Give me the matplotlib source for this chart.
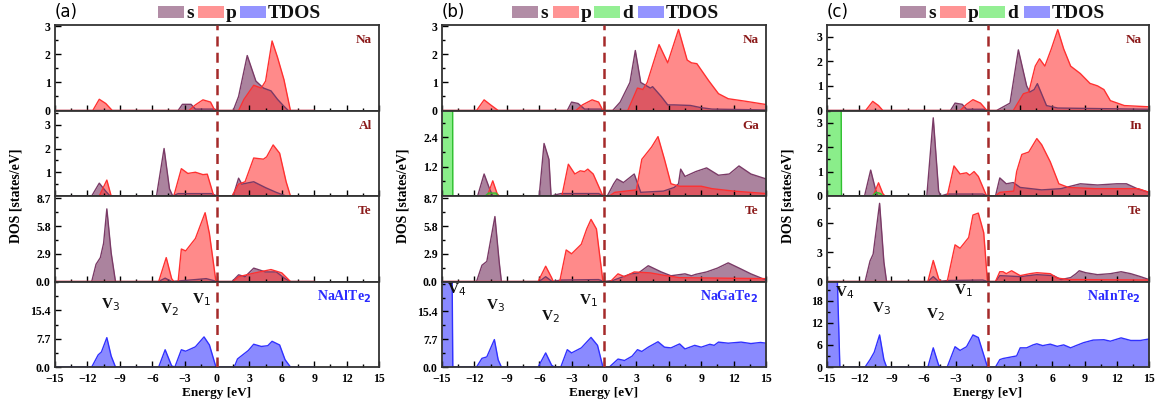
import numpy as np
import matplotlib
matplotlib.use("Agg")
import matplotlib.pyplot as plt
from matplotlib.patches import Rectangle
from matplotlib.ticker import MultipleLocator, AutoMinorLocator

# ---- (a) NaAlTe2 : (energy, DOS) points ----
a_na_s = [(-15, 0), (-3.6, 0), (-3.2, 0.22), (-2.4, 0.22), (-2.0, 0.05), (-0.2, 0.05), (0, 0), (1.5, 0),
          (2.0, 0.5), (2.8, 1.96), (3.6, 1.05), (4.3, 0.8), (5.0, 0.7), (5.6, 0.4), (6.2, 0.15), (6.6, 0), (9, 0)]
a_na_p = [(-15, 0), (-11.5, 0), (-10.9, 0.4), (-10.3, 0.25), (-9.7, 0), (-2.6, 0), (-2.0, 0.2), (-1.3, 0.38),
          (-0.6, 0.3), (-0.2, 0), (2.0, 0), (2.5, 0.4), (3.4, 0.9), (4.1, 0.8), (4.5, 1.05), (5.1, 2.48),
          (5.6, 1.9), (6.2, 1.1), (6.8, 0), (9, 0)]
a_al_s = [(-15, 0), (-11.6, 0), (-10.9, 0.54), (-10.3, 0.2), (-9.9, 0), (-5.6, 0), (-4.9, 2.0), (-4.4, 0.3),
          (-4.1, 0), (-3.6, 0.1), (-0.5, 0.1), (0, 0), (1.5, 0), (2.0, 0.75), (2.3, 0.5), (3.4, 0.6),
          (4.5, 0.35), (5.5, 0.15), (6.4, 0), (9, 0)]
a_al_p = [(-15, 0), (-10.9, 0), (-10.2, 0.67), (-9.8, 0), (-4.0, 0), (-3.3, 1.15), (-2.7, 0.95), (-2.0, 1.0),
          (-1.3, 0.9), (-0.9, 0.92), (-0.3, 0), (1.4, 0), (2.0, 0.5), (2.6, 0.6), (3.4, 1.6), (4.3, 1.55),
          (4.6, 1.65), (5.2, 2.15), (5.8, 1.8), (6.4, 0.6), (6.8, 0), (9, 0)]
a_te_s = [(-15, 0), (-11.6, 0), (-11.2, 1.8), (-10.8, 2.5), (-10.5, 4.0), (-10.2, 7.6), (-9.8, 3.0), (-9.4, 0),
          (-5.4, 0), (-4.8, 0.35), (-4.2, 0), (-2.0, 0.2), (-1.0, 0.3), (0, 0), (1.4, 0), (2.0, 0.7),
          (2.6, 0.5), (3.4, 1.4), (4.5, 1.0), (5.5, 1.0), (6.3, 0.3), (6.8, 0), (9, 0)]
a_te_p = [(-15, 0), (-5.4, 0), (-4.7, 2.5), (-4.2, 0.3), (-4.0, 0), (-3.6, 0), (-3.3, 3.4), (-2.9, 3.2),
          (-2.0, 4.5), (-1.5, 6.0), (-1.1, 7.2), (-0.7, 5.0), (-0.1, 0), (1.5, 0), (2.0, 0.5), (3.5, 0.9),
          (5.0, 1.25), (6.0, 0.9), (6.8, 0), (9, 0)]
a_tdos = [(-15, 0), (-11.6, 0), (-11.0, 3.3), (-10.7, 4.1), (-10.2, 8.0), (-9.8, 3.0), (-9.4, 0), (-5.4, 0),
          (-4.8, 4.7), (-4.2, 0.3), (-3.9, 0), (-3.3, 4.7), (-2.9, 4.3), (-2.0, 5.5), (-1.2, 8.2), (-0.7, 6.0),
          (-0.1, 0), (1.6, 0), (1.9, 2.2), (2.9, 4.5), (3.4, 6.2), (4.1, 5.6), (4.7, 5.8), (5.1, 7.0),
          (5.8, 6.0), (6.3, 2.0), (6.8, 0), (9, 0)]

# ---- (b) NaGaTe2 ----
b_na_s = [(-15, 0), (-3.4, 0), (-3.0, 0.3), (-2.4, 0.25), (-1.8, 0.05), (-0.3, 0.05), (0, 0), (0.8, 0),
          (1.5, 0.3), (2.4, 1.0), (2.9, 2.14), (3.4, 1.0), (4.3, 0.8), (4.5, 0.85), (5.3, 0.5), (5.9, 0.2),
          (6.5, 0.2), (8.0, 0.18), (9.0, 0.1), (10, 0.05), (15, 0.02)]
b_na_p = [(-15, 0), (-11.8, 0), (-11.1, 0.38), (-10.5, 0.2), (-9.8, 0), (-2.6, 0), (-2.0, 0.2), (-1.1, 0.38),
          (-0.5, 0.3), (-0.1, 0), (2.2, 0), (3.1, 0.8), (3.6, 0.75), (4.0, 1.0), (5.1, 2.35), (5.9, 1.7),
          (6.9, 2.89), (7.7, 1.8), (8.1, 1.7), (8.6, 1.67), (9.7, 1.06), (10.6, 0.6), (11.5, 0.42),
          (13.1, 0.33), (14.9, 0.22), (15, 0.2)]
b_ga_s = [(-15, 0), (-11.7, 0), (-11.1, 0.9), (-10.6, 0.3), (-10.3, 0), (-6.0, 0), (-5.55, 2.15), (-5.1, 1.5),
          (-4.9, 0), (-4.0, 0.1), (-0.5, 0.1), (0, 0), (0.3, 0), (0.9, 0.5), (1.2, 0.7), (1.8, 0.55),
          (2.8, 0.9), (3.4, 0.15), (5.5, 0.2), (6.5, 0.35), (6.9, 0.5), (7.1, 1.1), (7.5, 0.8), (8.5, 1.0),
          (9.5, 1.15), (10.6, 0.85), (11.6, 0.9), (12.5, 1.23), (13.6, 0.9), (15, 0.7)]
b_ga_p = [(-15, 0), (-10.8, 0), (-10.3, 0.62), (-9.9, 0.1), (-9.7, 0), (-3.9, 0), (-3.3, 1.3), (-2.7, 0.9),
          (-2.2, 1.03), (-1.8, 1.0), (-1.5, 1.1), (-1.0, 0.9), (-0.1, 0), (0.5, 0), (1.0, 0.15), (3.0, 0.25),
          (3.3, 1.0), (3.5, 1.5), (4.4, 2.0), (5.0, 2.43), (5.6, 1.5), (6.2, 0.5), (7.0, 0.4), (9.0, 0.4),
          (10.0, 0.3), (12.0, 0.2), (15, 0.1)]
b_ga_d = [(-15, 12), (-14.05, 12), (-14.0, 0), (-11.0, 0), (-10.7, 0.12), (-10.0, 0.12), (-9.8, 0), (15, 0)]
b_te_s = [(-15, 0), (-11.8, 0), (-11.3, 1.7), (-10.85, 2.1), (-10.1, 6.8), (-9.7, 2.0), (-9.5, 0), (-6.0, 0),
          (-5.4, 0.5), (-4.8, 0), (-4.0, 0.15), (-0.5, 0.2), (0, 0), (0.8, 0.1), (2.5, 0.8), (3.2, 0.9),
          (4.1, 1.65), (5.3, 1.0), (6.2, 0.6), (7.5, 0.8), (8.1, 0.6), (8.5, 0.75), (9.5, 1.0), (10.5, 1.4),
          (11.5, 1.95), (12.7, 1.3), (13.6, 0.8), (14.9, 0.2), (15, 0.2)]
b_te_p = [(-15, 0), (-6.1, 0), (-5.4, 1.6), (-4.85, 0.4), (-4.7, 0), (-4.1, 0), (-3.5, 3.3), (-3.0, 2.9),
          (-2.1, 3.9), (-1.6, 5.5), (-1.2, 6.5), (-0.7, 5.5), (-0.1, 0), (0.6, 0), (1.3, 0.8), (1.9, 0.5),
          (2.8, 1.0), (4.3, 0.9), (5.8, 0.6), (7, 0.4), (15, 0.3)]
b_tdos = [(-15, 40), (-14.1, 40), (-14.0, 0), (-11.8, 0), (-11.3, 2.4), (-10.85, 2.8), (-10.15, 7.6),
          (-9.8, 2.0), (-9.5, 0), (-6.1, 0), (-5.4, 3.9), (-4.85, 0.5), (-4.6, 0), (-4.0, 0), (-3.4, 4.8),
          (-3.0, 3.9), (-2.1, 5.3), (-1.2, 8.2), (-0.6, 6.0), (-0.1, 0), (0.5, 0), (1.3, 2.2), (1.9, 1.8),
          (2.6, 3.0), (3.1, 4.8), (3.5, 4.3), (4.1, 5.5), (4.4, 6.0), (5.0, 7.0), (5.6, 5.5), (6.2, 5.3),
          (7.0, 6.4), (7.5, 5.0), (8.4, 6.0), (9.0, 5.5), (9.8, 6.3), (10.2, 6.0), (10.6, 6.9), (11.5, 6.6),
          (12.7, 6.9), (13.6, 6.5), (14.5, 6.8), (15, 6.6)]

# ---- (c) NaInTe2 ----
c_na_s = [(-15, 0), (-3.5, 0), (-3.07, 0.3), (-2.4, 0.25), (-2.0, 0.05), (-0.3, 0.05), (0, 0), (0.8, 0),
          (2.05, 0.3), (2.83, 2.46), (3.6, 1.0), (3.9, 0.75), (4.3, 0.85), (4.6, 1.09), (5.45, 0.2),
          (6.5, 0.1), (15, 0.05)]
c_na_p = [(-15, 0), (-11.4, 0), (-10.74, 0.37), (-10.2, 0.2), (-9.8, 0), (-2.6, 0), (-2.0, 0.25), (-1.4, 0.44),
          (-0.7, 0.3), (-0.1, 0), (2.36, 0), (3.3, 0.68), (3.8, 0.75), (4.4, 1.8), (4.8, 2.1), (5.3, 1.8),
          (5.9, 2.5), (6.5, 3.28), (7.05, 2.5), (7.7, 1.8), (8.6, 1.5), (9.5, 1.1), (10.2, 1.0), (10.8, 0.85),
          (11.4, 0.4), (12.7, 0.2), (15, 0.15)]
c_in_s = [(-15, 0), (-11.5, 0), (-10.93, 1.06), (-10.5, 0.3), (-10.3, 0), (-5.7, 0), (-5.1, 3.2), (-4.6, 0.2),
          (-4.4, 0), (-3.8, 0.08), (-0.5, 0.08), (0, 0), (0.7, 0), (1.1, 0.74), (1.7, 0.5), (2.36, 0.55),
          (3.0, 0.35), (5, 0.25), (6.8, 0.3), (8.6, 0.5), (10.2, 0.45), (12.0, 0.5), (12.9, 0.5), (13.9, 0.3),
          (15, 0.15)]
c_in_p = [(-15, 0), (-10.7, 0), (-10.2, 0.54), (-9.8, 0.1), (-9.6, 0), (-3.8, 0), (-3.17, 1.23), (-2.6, 0.9),
          (-2.0, 0.95), (-1.7, 0.85), (-1.3, 1.0), (-0.9, 0.8), (-0.13, 0), (0.7, 0), (1.1, 0.15), (2.4, 0.2),
          (2.67, 1.0), (3.15, 1.7), (3.8, 1.8), (4.55, 2.35), (5.0, 2.1), (5.8, 1.4), (6.6, 0.5), (7.5, 0.35),
          (10, 0.3), (14, 0.3), (15, 0.15)]
c_in_d = [(-15, 12), (-13.75, 12), (-13.65, 0), (-10.8, 0), (-10.4, 0.15), (-10.0, 0.1), (-9.8, 0), (15, 0)]
c_te_s = [(-15, 0), (-11.45, 0), (-10.99, 2.1), (-10.7, 2.8), (-10.1, 8.0), (-9.7, 2.0), (-9.45, 0), (-5.6, 0),
          (-5.1, 0.5), (-4.6, 0), (-3.8, 0.1), (-0.5, 0.15), (0, 0), (0.7, 0), (1.1, 0.6), (3.0, 0.5),
          (4.55, 0.7), (6.1, 0.6), (6.8, 0.2), (7.7, 0.4), (8.2, 0.8), (8.5, 1.1), (9.1, 0.9), (10.2, 0.7),
          (11.4, 0.8), (12.4, 1.0), (13.3, 0.8), (14.2, 0.5), (15, 0.2)]
c_te_p = [(-15, 0), (-5.6, 0), (-5.1, 2.15), (-4.6, 0.3), (-4.4, 0), (-3.8, 0), (-3.07, 3.75), (-2.6, 3.4),
          (-1.8, 4.5), (-1.4, 6.8), (-0.9, 7.0), (-0.4, 5.0), (-0.05, 0), (0.7, 0), (1.1, 1.0), (1.4, 1.0),
          (1.7, 0.8), (2.2, 1.1), (3.0, 0.6), (3.9, 0.8), (4.55, 0.9), (5.8, 0.8), (6.45, 0.35), (7.5, 0.2),
          (15, 0.15)]
c_tdos = [(-15, 30), (-14.1, 30), (-13.8, 0), (-11.45, 0), (-10.99, 2.0), (-10.6, 4.0), (-10.1, 8.7),
          (-9.7, 2.0), (-9.45, 0), (-5.6, 0), (-5.1, 5.2), (-4.6, 0.5), (-4.4, 0), (-3.8, 0), (-3.07, 5.5),
          (-2.6, 4.5), (-2.0, 5.5), (-1.4, 8.7), (-0.9, 8.0), (-0.05, 0), (0.7, 0), (1.1, 2.0), (1.4, 2.3),
          (2.3, 2.8), (2.67, 3.0), (3.0, 5.2), (3.6, 5.2), (4.2, 6.0), (4.55, 6.3), (5.1, 5.8), (5.8, 6.2),
          (6.45, 5.6), (7.05, 6.0), (7.7, 5.2), (8.2, 5.8), (8.9, 6.6), (9.8, 7.3), (10.8, 7.4), (11.4, 7.0),
          (12.4, 7.9), (13.3, 7.2), (14.2, 7.2), (15, 7.6)]

x_ticks = [-15, -12, -9, -6, -3, 0, 3, 6, 9, 12, 15]

# colours (drawn with alpha 0.6)
FILL = {"s": "#73305e", "p": "#ff3c3c", "d": "#3ce33c", "TDOS": "#3c3cff"}
EDGE = {"s": "#7a3a66", "p": "#ff3030", "d": "#30c030", "TDOS": "#3030ff"}
SERIF = ["Liberation Serif", "DejaVu Serif"]
W, H = 1161, 412

fig = plt.figure(figsize=(W / 100, H / 100), dpi=100)


def fx(px):
    return px / W


def fy(py):
    return 1 - py / H


def draw(ax, pairs, kind):
    arr = np.array(pairs, dtype=float)
    ax.fill_between(arr[:, 0], arr[:, 1], color=FILL[kind], alpha=0.6, lw=0)
    ax.plot(arr[:, 0], arr[:, 1], color=EDGE[kind], lw=1.0)


def tick_text(vals, fmt):
    return [fmt.format(v) for v in vals]


panels = [
    dict(tag="(a)", left=55, right=379, comp="NaAlTe$_\\mathbf{2}$",
         rows=[("Na", {"s": a_na_s, "p": a_na_p}, 3.05, [0, 1, 2, 3], "{:g}"),
               ("Al", {"s": a_al_s, "p": a_al_p}, 3.6, [1, 2, 3], "{:g}"),
               ("Te", {"s": a_te_s, "p": a_te_p}, 8.95, [0, 2.9, 5.8, 8.7], "{:.1f}"),
               (None, {"TDOS": a_tdos}, 23.3, [0, 7.7, 15.4], "{:.1f}")],
         vlabels=[("V$_3$", -9.9, 17), ("V$_2$", -4.4, 15.6), ("V$_1$", -1.4, 18.4)],
         legend=[("s", 158), ("p", 198), ("TDOS", 240)]),
    dict(tag="(b)", left=442, right=766, comp="NaGaTe$_\\mathbf{2}$",
         rows=[("Na", {"s": b_na_s, "p": b_na_p}, 3.05, [0, 1, 2, 3], "{:g}"),
               ("Ga", {"s": b_ga_s, "p": b_ga_p, "d": b_ga_d}, 3.5, [1.2, 2.4], "{:.1f}"),
               ("Te", {"s": b_te_s, "p": b_te_p}, 8.95, [0, 2.9, 5.8, 8.7], "{:.1f}"),
               (None, {"TDOS": b_tdos}, 23.7, [0, 7.7, 15.4], "{:.1f}")],
         vlabels=[("V$_4$", -13.6, 21.5), ("V$_3$", -10.0, 17), ("V$_2$", -5.0, 14), ("V$_1$", -1.4, 18.3)],
         legend=[("s", 512), ("p", 553), ("d", 594), ("TDOS", 638)]),
    dict(tag="(c)", left=827, right=1149, comp="NaInTe$_\\mathbf{2}$",
         rows=[("Na", {"s": c_na_s, "p": c_na_p}, 3.47, [0, 1, 2, 3], "{:g}"),
               ("In", {"s": c_in_s, "p": c_in_p, "d": c_in_d}, 3.5, [0, 1, 2, 3], "{:g}"),
               ("Te", {"s": c_te_s, "p": c_te_p}, 8.75, [0, 3, 6], "{:g}"),
               (None, {"TDOS": c_tdos}, 23.2, [0, 6, 12, 18], "{:g}")],
         vlabels=[("V$_4$", -13.4, 20.3), ("V$_3$", -9.9, 15.9), ("V$_2$", -4.9, 14.2), ("V$_1$", -2.3, 20.8)],
         legend=[("s", 900), ("p", 940), ("d", 979), ("TDOS", 1024)]),
]

TOP, ROW_H = 25, 85.5

for pan in panels:
    left, right = pan["left"], pan["right"]
    for i, (elem, curves, ytop, yticks, fmt) in enumerate(pan["rows"]):
        y0 = TOP + i * ROW_H
        ax = fig.add_axes([fx(left), fy(y0 + ROW_H), fx(right - left), ROW_H / H])
        for kind in ("s", "p", "d", "TDOS"):
            if kind in curves:
                draw(ax, curves[kind], kind)
        ax.axvline(0, color="#a52a2a", ls=(0, (4, 2.5)), lw=1.8, zorder=5)
        ax.set_xlim(-15, 15)
        ax.set_ylim(0, ytop)
        ax.set_xticks(x_ticks)
        ax.xaxis.set_minor_locator(MultipleLocator(1.5))
        ax.set_yticks(yticks)
        ax.set_yticklabels(tick_text(yticks, fmt))
        ax.yaxis.set_minor_locator(AutoMinorLocator(2))
        ax.tick_params(which="both", direction="in", top=False, right=False, width=1.0)
        ax.tick_params(which="major", length=4)
        ax.tick_params(which="minor", length=2.5)
        ax.tick_params(axis="y", labelsize=8.5, pad=3)
        ax.tick_params(axis="x", labelsize=8.5, pad=4)
        for lab in ax.get_yticklabels() + ax.get_xticklabels():
            lab.set_family(SERIF)
            lab.set_fontweight("bold")
        for sp in ax.spines.values():
            sp.set_color("#333333")
            sp.set_linewidth(1.3)
        if i < 3:
            ax.tick_params(axis="x", labelbottom=False)
        if elem:
            ax.text(0.978, 0.82, elem, transform=ax.transAxes, ha="right", va="center",
                    color="#8b1a1a", fontsize=9.5, fontweight="bold", family=SERIF)
        else:
            ax.text(0.975, 0.82, pan["comp"], transform=ax.transAxes, ha="right", va="center",
                    color="#2a2aff", fontsize=10, fontweight="bold", family=SERIF)
            for txt, ex, ey in pan["vlabels"]:
                ax.text(ex, ey, txt, ha="center", va="center", fontsize=11,
                        fontweight="bold", family=SERIF, color="#111111")
            ax.set_xlabel("Energy [eV]", fontsize=9.5, fontweight="bold", family=SERIF, labelpad=2)

    # y label, panel tag
    fig.text(fx(left - 39), fy(TOP + 2 * ROW_H), "DOS [states/eV]", rotation=90, ha="center",
             va="center", fontsize=10, fontweight="bold", family=SERIF)
    fig.text(fx(left), fy(12), pan["tag"], ha="left", va="center", fontsize=12, family="DejaVu Sans")

    # legend row
    for kind, px in pan["legend"]:
        fig.add_artist(Rectangle((fx(px), fy(18)), fx(26), 12 / H, transform=fig.transFigure,
                                 facecolor=FILL[kind], alpha=0.55, edgecolor="none"))
        fig.text(fx(px + 28), fy(18), kind, ha="left", va="baseline", fontsize=14,
                 fontweight="bold", family=SERIF, color="#111111")

fig.savefig("out.png", dpi=100)
